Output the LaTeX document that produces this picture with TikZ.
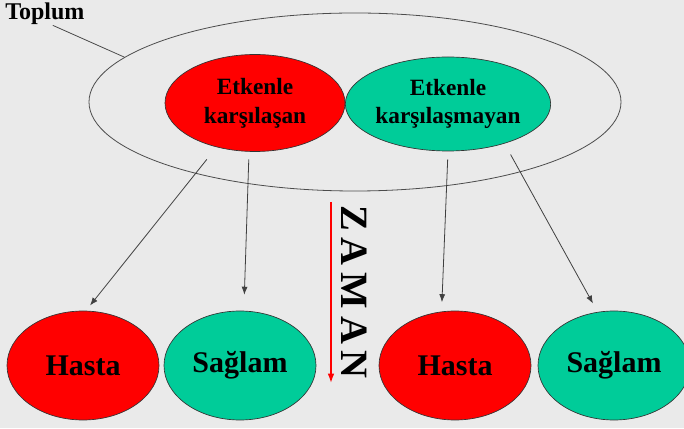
\documentclass[tikz,border=0pt]{standalone}
\usepackage{fontspec}
\setmainfont{Liberation Serif}
\usetikzlibrary{shapes.geometric,arrows.meta}
\definecolor{kirmizi}{RGB}{255,0,0}
\definecolor{yesil}{RGB}{0,204,153}
\definecolor{zemin}{RGB}{234,234,234}
\tikzset{
  grup/.style={ellipse,draw=black!80,line width=0.5pt,inner sep=0pt,align=center,
    font=\bfseries\fontsize{17.5}{21.5}\selectfont},
  sonuc/.style={ellipse,draw=black!80,line width=0.5pt,inner sep=0pt,
    minimum width=114pt,minimum height=81.75pt,font=\bfseries\fontsize{22.5}{26}\selectfont},
  ok/.style={-{Latex[length=6pt,width=4.5pt]},line width=0.6pt,draw=black!75}
}
\begin{document}
\begin{tikzpicture}[x=0.75pt,y=0.75pt]
\useasboundingbox (0,0) rectangle (684,428);
\fill[zemin] (0,0) rectangle (684,428);
\clip (0,0) rectangle (684,428);
% toplum
\node[ellipse,draw=black!70,line width=0.6pt,inner sep=0pt,
  minimum width=399pt,minimum height=133.5pt] (toplumE) at (355,326) {};
\node[anchor=base west,inner sep=0pt,font=\bfseries\fontsize{18}{20}\selectfont]
  (toplum) at (5,408) {Toplum};
\draw[black!70,line width=0.6pt] ([xshift=6pt]toplum.south) -- (toplumE.169);
% gruplar
\node[grup,fill=kirmizi,minimum width=135pt,minimum height=72.75pt] (maruz) at (255,325) {Etkenle\\karşılaşan};
\node[grup,fill=yesil,minimum width=135pt,minimum height=70.5pt] (maruzsuz) at (448,324) {Etkenle\\karşılaşmayan};
% sonuclar
\node[sonuc,fill=kirmizi] (hasta1) at (83,62.5) {Hasta};
\node[sonuc,fill=yesil] (saglam1) at (240,62.5) {Sağlam};
\node[sonuc,fill=kirmizi] (hasta2) at (455,62.5) {Hasta};
\node[sonuc,fill=yesil] (saglam2) at (614,62.5) {Sağlam};
% oklar
\draw[ok,shorten <=11.7pt,shorten >=5pt] (maruz.229) -- (hasta1.87);
\draw[ok,shorten <=5.8pt,shorten >=12pt] (maruz.263) -- (saglam1.86);
\draw[ok,shorten <=6pt,shorten >=7pt] (maruzsuz.270) -- (hasta2.104);
\draw[ok,shorten <=9.4pt,shorten >=7.2pt] (maruzsuz.325) -- (saglam2.107);
% zaman
\coordinate (zamanBas) at (331,226);
\coordinate (zamanSon) at (331,45);
\draw[-{Latex[length=7pt,width=5pt]},kirmizi,line width=1.1pt] (zamanBas) -- (zamanSon);
\node[rotate=-90,inner sep=0pt,font=\bfseries\fontsize{29}{32}\selectfont\addfontfeature{LetterSpace=18}]
  (zaman) at (354,136) {ZAMAN};
\end{tikzpicture}
\end{document}
